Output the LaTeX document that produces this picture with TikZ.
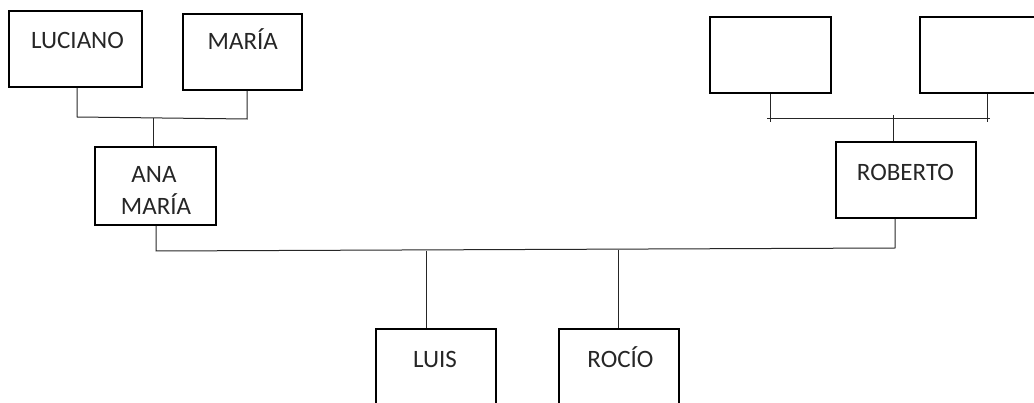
\documentclass[tikz,border=0pt]{standalone}
\usepackage{fontspec}
\setmainfont{Carlito}
\begin{document}
\begin{tikzpicture}[x=1pt,y=-1pt,
  box/.style={draw=black, line width=2.4pt, inner sep=0pt},
  lbl/.style={font=\fontsize{25}{29}\selectfont, inner sep=0pt, text=black!85, anchor=base},
  conn/.style={line width=1pt, draw=black!85}]
\useasboundingbox (0,0) rectangle (1034,403);
\clip (0,0) rectangle (1034,403);
% boxes
\node[box, minimum width=132.6pt, minimum height=75.6pt] (lu) at (75.5,49) {};
\node[box, minimum width=118.6pt, minimum height=75.6pt] (ma) at (242.5,52) {};
\node[box, minimum width=120.6pt, minimum height=77.6pt] (an) at (155.5,186) {};
\node[box, minimum width=120.6pt, minimum height=75.6pt] (r1) at (770.5,55) {};
\node[box, minimum width=120.6pt, minimum height=75.6pt] (r2) at (980.5,55) {};
\node[box, minimum width=139.6pt, minimum height=75.6pt] (ro) at (906,180) {};
\node[box, minimum width=119.6pt, minimum height=90pt] (li) at (436,374) {};
\node[box, minimum width=119.6pt, minimum height=90pt] (rc) at (619,374) {};
% labels
\node[lbl] (lut) at (77.5,48.2) {LUCIANO};
\node[lbl] (mat) at (242.8,49.7) {MARÍA};
\node[lbl] (ant1) at (154,182.2) {ANA};
\node[lbl] (ant2) at (156,214.7) {MARÍA};
\node[lbl] (rot) at (905.5,180.2) {ROBERTO};
\node[lbl] (lit) at (435,367.7) {LUIS};
\node[lbl] (rct) at (620.5,367.7) {ROCÍO};
% left parents
\coordinate (b1l) at (77,117);
\coordinate (b1r) at (247,119);
\coordinate (b1m) at (153,118);
\draw[conn] (lu.south -| b1l) -- (b1l) -- (b1r) -- (ma.south -| b1r);
\draw[conn] (b1m) -- (an.north -| b1m);
% right parents
\coordinate (b2l) at (767,119);
\coordinate (b2r) at (990,119);
\coordinate (s1) at (770,122);
\coordinate (s2) at (987,122);
\coordinate (b2m) at (893,115);
\draw[conn] (b2l) -- (b2r);
\draw[conn] (r1.south -| s1) -- (s1);
\draw[conn] (r2.south -| s2) -- (s2);
\draw[conn] (b2m) -- (ro.north -| b2m);
% couple and children
\coordinate (b3l) at (156,251);
\coordinate (b3r) at (895,248);
\coordinate (c1) at (426,250.6);
\coordinate (c2) at (618,249.8);
\draw[conn] (an.south -| b3l) -- (b3l) -- (b3r) -- (ro.south -| b3r);
\draw[conn] (c1) -- (li.north -| c1);
\draw[conn] (c2) -- (rc.north -| c2);
\end{tikzpicture}
\end{document}
